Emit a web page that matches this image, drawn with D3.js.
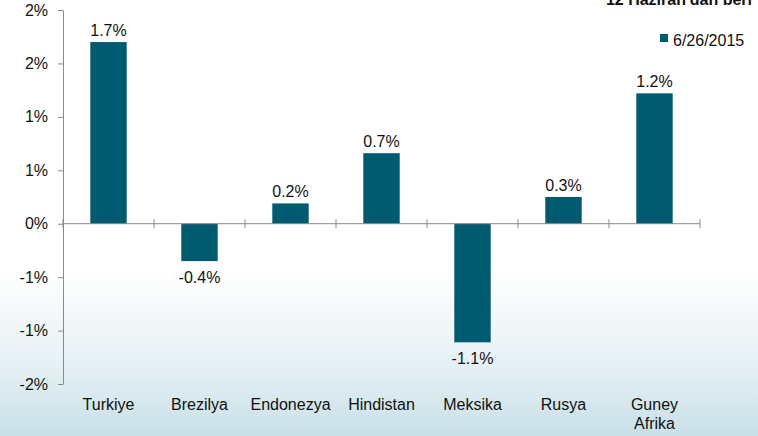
<!DOCTYPE html>
<html>
<head>
<meta charset="utf-8">
<script src="https://cdn.jsdelivr.net/npm/d3@7"></script>
<style>
html,body{margin:0;padding:0;background:#fff;}
svg{display:block;}
text{font-family:"Liberation Sans",Arial,sans-serif;}
</style>
</head>
<body>
<svg id="chart" width="758" height="436"></svg>
<script>
const categories = ["Turkiye","Brezilya","Endonezya","Hindistan","Meksika","Rusya","Guney Afrika"];
const values = [1.70, -0.35, 0.19, 0.66, -1.11, 0.25, 1.22];
const valueLabels = ["1.7%","-0.4%","0.2%","0.7%","-1.1%","0.3%","1.2%"];
const yTickValues = [2, 1.5, 1, 0.5, 0, -0.5, -1, -1.5];
const yTickLabels = ["2%","2%","1%","1%","0%","-1%","-1%","-2%"];
const seriesName = "6/26/2015";
const title = "12 Haziran'dan beri";

(function(){
const W = 758, H = 436;
const svg = d3.select("#chart");
const barColor = "#005a70";
const axisColor = "#8a8a8a";
const textColor = "#111";

// background
const defs = svg.append("defs");
const grad = defs.append("linearGradient").attr("id","bg").attr("x1",0).attr("y1",0).attr("x2",0).attr("y2",1);
grad.append("stop").attr("offset","0").attr("stop-color","#ffffff");
grad.append("stop").attr("offset","0.62").attr("stop-color","#ffffff");
grad.append("stop").attr("offset","0.82").attr("stop-color","#e8f2f5");
grad.append("stop").attr("offset","1").attr("stop-color","#c9e0e8");
svg.append("rect").attr("width",W).attr("height",H).attr("fill","url(#bg)");

const mLeft = 63, mRight = 700, mTop = 10, mBottom = 384;
const y = d3.scaleLinear().domain([-1.5, 2]).range([mBottom, mTop]);
const x = d3.scaleBand().domain(categories).range([mLeft, mRight]).paddingInner(0.6).paddingOuter(0.3);
const xb = d3.scaleBand().domain(categories).range([mLeft, mRight]).padding(0);

// Y axis
const yAxis = d3.axisLeft(y).tickValues(yTickValues)
  .tickFormat(d => yTickLabels[yTickValues.indexOf(d)])
  .tickSize(5).tickSizeOuter(0).tickPadding(10);
const gy = svg.append("g").attr("transform",`translate(${mLeft},0)`).call(yAxis);
gy.select(".domain").attr("stroke",axisColor);
gy.selectAll(".tick line").attr("stroke",axisColor);
gy.selectAll(".tick text").attr("fill",textColor).style("font-size","16px").style("font-family","'Liberation Sans',Arial,sans-serif");

// bars
svg.append("g").selectAll("rect").data(values).join("rect")
  .attr("x",(d,i)=>x(categories[i]))
  .attr("width",x.bandwidth())
  .attr("y",d=>y(Math.max(0,d)))
  .attr("height",d=>Math.abs(y(d)-y(0)))
  .attr("fill",barColor);

// X axis line at zero
const y0 = y(0);
svg.append("line").attr("x1",mLeft).attr("x2",mRight).attr("y1",y0).attr("y2",y0).attr("stroke",axisColor);
const tickXs = categories.map(c=>xb(c)).concat([mRight]);
svg.append("g").selectAll("line").data(tickXs).join("line")
  .attr("x1",d=>d).attr("x2",d=>d).attr("y1",y0-4.5).attr("y2",y0+4.5).attr("stroke",axisColor);

// value labels
svg.append("g").selectAll("text").data(values).join("text")
  .attr("x",(d,i)=>x(categories[i])+x.bandwidth()/2)
  .attr("y",d=> d>=0 ? y(d)-6 : y(d)+22)
  .attr("text-anchor","middle").attr("fill",textColor).style("font-size","16px")
  .text((d,i)=>valueLabels[i]);

// category labels
const cl = svg.append("g").selectAll("text").data(categories).join("text")
  .attr("x",c=>xb(c)+xb.bandwidth()/2)
  .attr("y",410)
  .attr("text-anchor","middle").attr("fill",textColor).style("font-size","16px");
cl.each(function(c){
  const words = c.split(" ");
  const t = d3.select(this);
  words.forEach((w,i)=>{
    t.append("tspan").attr("x",xb(c)+xb.bandwidth()/2).attr("dy", i===0?0:19).text(w);
  });
});

// legend
svg.append("rect").attr("x",660).attr("y",34).attr("width",8).attr("height",8).attr("fill",barColor);
svg.append("text").attr("x",673).attr("y",46).attr("fill",textColor).style("font-size","16px").text(seriesName);

// title (cut off at top)
svg.append("text").attr("x",752).attr("y",5).attr("text-anchor","end").attr("fill",textColor)
  .style("font-size","16px").style("font-weight","bold").text(title);
})();
</script>
</body>
</html>
